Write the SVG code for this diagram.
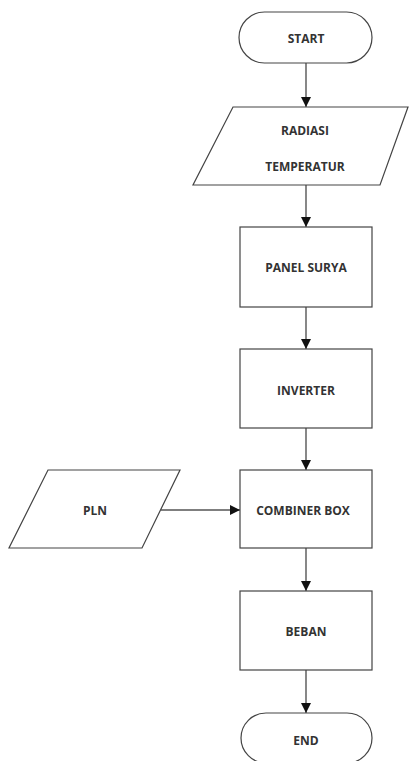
<svg xmlns="http://www.w3.org/2000/svg" width="410" height="761" viewBox="0 0 410 761">
<defs>
<marker id="ah" viewBox="0 0 10 10" refX="10" refY="5" markerWidth="10" markerHeight="10" markerUnits="userSpaceOnUse" orient="auto">
<path d="M0,0 L10,5 L0,10 Z" fill="#111"/>
</marker>
<style>
.sh{fill:#fff;stroke:#444;stroke-width:1.2}
.t{font-family:"Open Sans","Liberation Sans",sans-serif;font-weight:bold;font-size:12px;fill:#333;text-anchor:middle;dominant-baseline:central}
.c{stroke:#555;stroke-width:1.4;fill:none;marker-end:url(#ah)}
</style>
</defs>
<rect width="410" height="761" fill="#fff"/>
<g id="connectors">
<line class="c" x1="306" y1="63" x2="306" y2="107"/>
<line class="c" x1="306" y1="185" x2="306" y2="227"/>
<line class="c" x1="306" y1="307" x2="306" y2="349"/>
<line class="c" x1="306" y1="428" x2="306" y2="470"/>
<line class="c" x1="161" y1="510" x2="240" y2="510"/>
<line class="c" x1="306" y1="548" x2="306" y2="591"/>
<line class="c" x1="306" y1="670" x2="306" y2="713"/>
</g>
<g id="start">
<rect class="sh" x="239" y="12" width="133" height="51" rx="25.5" ry="25.5"/>
<text class="t" x="306" y="38">START</text>
</g>
<g id="radiasi">
<polygon class="sh" points="233,107 408,107 380,185 193,185"/>
<text class="t" x="305" y="130">RADIASI</text>
<text class="t" x="305" y="166">TEMPERATUR</text>
</g>
<g id="panel">
<rect class="sh" x="240" y="227" width="132" height="80"/>
<text class="t" x="306" y="267">PANEL SURYA</text>
</g>
<g id="inverter">
<rect class="sh" x="240" y="349" width="132" height="79"/>
<text class="t" x="306" y="390">INVERTER</text>
</g>
<g id="pln">
<polygon class="sh" points="48,470 180,470 142,548 9,548"/>
<text class="t" x="95" y="510">PLN</text>
</g>
<g id="combiner">
<rect class="sh" x="240" y="470" width="132" height="78"/>
<text class="t" x="303" y="510">COMBINER BOX</text>
</g>
<g id="beban">
<rect class="sh" x="240" y="591" width="132" height="79"/>
<text class="t" x="306" y="631">BEBAN</text>
</g>
<g id="end">
<rect class="sh" x="241" y="713" width="131" height="50" rx="25" ry="25"/>
<text class="t" x="306" y="740">END</text>
</g>
</svg>
